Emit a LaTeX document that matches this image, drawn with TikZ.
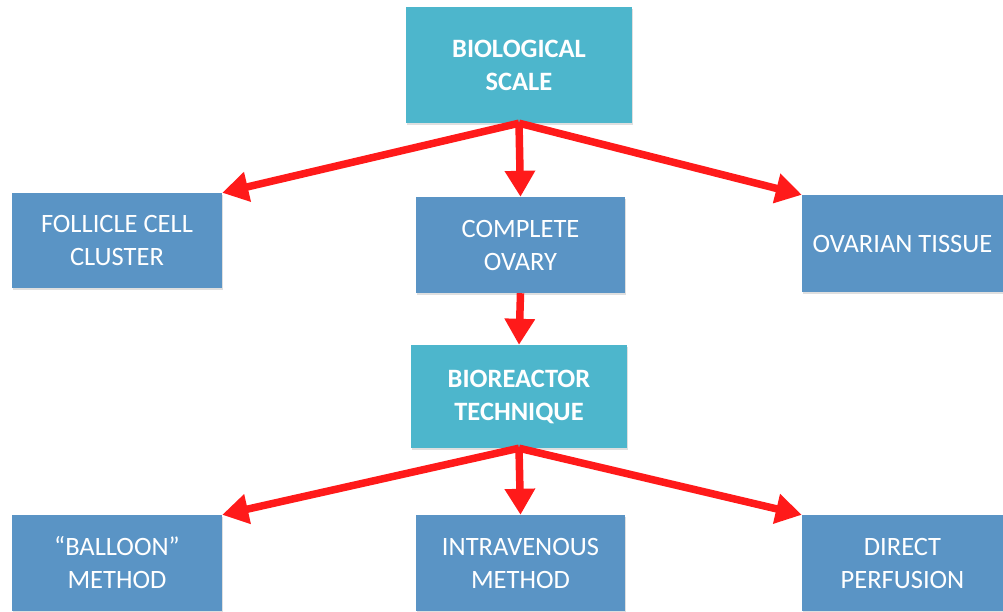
\documentclass[tikz,border=0pt]{standalone}
\usepackage{fontspec}
\setmainfont{Carlito}
\usetikzlibrary{arrows.meta,shadows}
\definecolor{tealbox}{HTML}{4DB6CC}
\definecolor{bluebox}{HTML}{5A94C5}
\definecolor{arrowred}{HTML}{FF1A1A}
\tikzset{
  box/.style={rectangle,fill=bluebox,text=white,align=center,font=\fontsize{26.5}{33}\selectfont,
    inner sep=0pt,drop shadow={opacity=0.25,shadow xshift=0.6pt,shadow yshift=-1.6pt}},
  keybox/.style={box,fill=tealbox,font=\fontsize{26.5}{33}\selectfont\bfseries},
  redarrow/.style={draw=arrowred,line width=7.5pt,-{Triangle[width=29pt,length=26pt]}}
}
\begin{document}
\begin{tikzpicture}[x=1pt,y=-1pt]
\useasboundingbox[fill=white] (0,0) rectangle (1003,611);
% top level
\node[keybox,minimum width=226pt,minimum height=116pt] (scale) at (519,65) {BIOLOGICAL\\SCALE};
% second row
\node[box,minimum width=210pt,minimum height=95pt] (cluster) at (117,240.5) {FOLLICLE CELL\\CLUSTER};
\node[box,minimum width=209pt,minimum height=96pt] (ovary) at (520.5,245) {COMPLETE\\OVARY};
\node[box,minimum width=201pt,minimum height=97pt] (tissue) at (902.5,243.5) {OVARIAN TISSUE};
% technique
\node[keybox,minimum width=216pt,minimum height=103pt] (bioreactor) at (519,396.5) {BIOREACTOR\\TECHNIQUE};
% bottom row
\node[box,minimum width=210pt,minimum height=96pt] (balloon) at (117,563) {``BALLOON''\\METHOD};
\node[box,minimum width=209pt,minimum height=96pt] (intravenous) at (520.5,563) {INTRAVENOUS\\METHOD};
\node[box,minimum width=201pt,minimum height=96pt] (perfusion) at (902.5,563) {DIRECT\\PERFUSION};
% arrows
\draw[redarrow] (scale.south) -- (cluster.north east);
\draw[redarrow] (scale.south) -- (ovary.north);
\draw[redarrow] (scale.south) -- (tissue.north west);
\draw[redarrow] (ovary.south) -- (bioreactor.north);
\draw[redarrow] (bioreactor.south) -- (balloon.north east);
\draw[redarrow] (bioreactor.south) -- (intravenous.north);
\draw[redarrow] (bioreactor.south) -- (perfusion.north west);
\end{tikzpicture}
\end{document}
